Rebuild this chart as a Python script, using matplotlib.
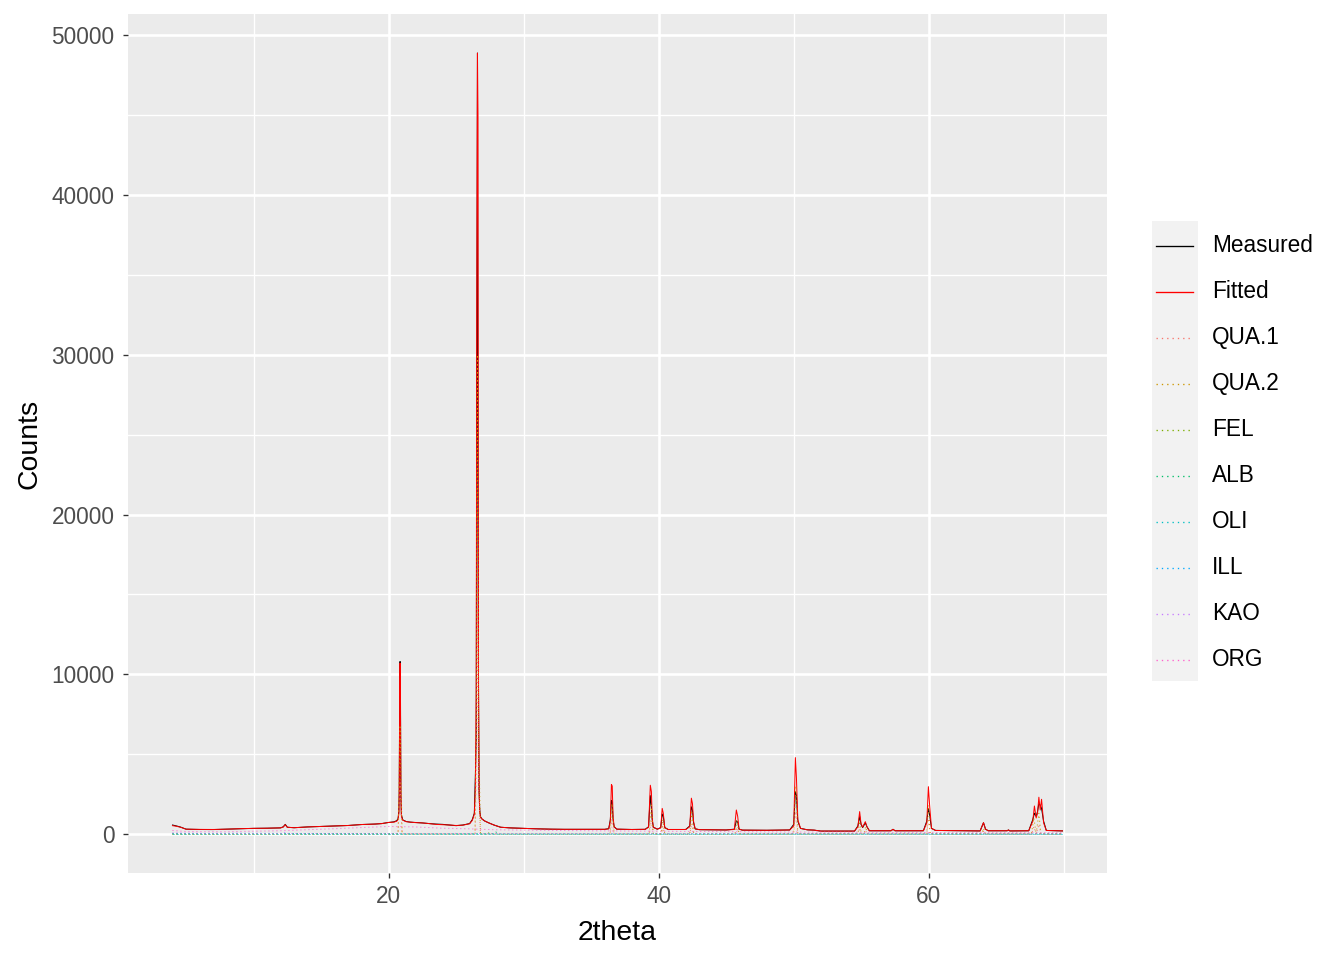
import matplotlib
matplotlib.use("Agg")
import matplotlib.pyplot as plt
from matplotlib.ticker import MultipleLocator

plt.rcParams["font.family"] = ["Liberation Sans", "DejaVu Sans"]

# measured / fitted pattern (2theta, counts)
tt = [4.0, 4.3, 4.6, 5.0, 6.0, 7.0, 8.0, 9.0, 10.0, 11.0, 12.0, 12.2, 12.35, 12.5, 13.0,
      14.0, 15.0, 16.0, 17.0, 18.0, 19.0, 19.5, 20.0, 20.4, 20.6, 20.7, 20.76, 20.79,
      20.82, 20.85, 20.88, 20.91, 20.95, 21.05, 21.3, 21.6, 22.0, 22.5, 23.0, 23.5,
      24.0, 24.5, 25.0, 25.5, 26.0, 26.2, 26.35, 26.43, 26.49, 26.53, 26.58, 26.62,
      26.66, 26.70, 26.75, 26.80, 26.9, 27.1, 27.4, 27.8, 28.3, 29.0, 30.0, 31.0, 32.0,
      33.0, 34.0, 35.0, 36.0, 36.3, 36.42, 36.5, 36.56, 36.62, 36.7, 36.9, 38.0, 39.0,
      39.25, 39.38, 39.46, 39.52, 39.6, 39.9, 40.15, 40.26, 40.34, 40.45, 40.7, 42.0,
      42.3, 42.42, 42.5, 42.58, 42.7, 43.0, 45.0, 45.6, 45.75, 45.85, 45.95, 46.2, 48.0,
      49.7, 50.0, 50.12, 50.2, 50.3, 50.5, 51.0, 51.5, 52.0, 54.5, 54.75, 54.88, 54.98,
      55.1, 55.3, 55.42, 55.6, 57.2, 57.35, 57.5, 59.6, 59.85, 59.97, 60.06, 60.2, 60.5,
      63.8, 64.05, 64.2, 64.4, 65.8, 65.9, 66.0, 67.4, 67.7, 67.82, 67.95, 68.05, 68.15,
      68.25, 68.35, 68.5, 68.7, 69.9]
measured = [560, 500, 430, 300, 280, 275, 300, 330, 350, 360, 380, 450, 600, 420, 390,
            440, 470, 500, 530, 590, 620, 650, 720, 760, 830, 950, 1400, 2800,
            8000, 10800, 8800, 2400, 1200, 880, 780, 740, 720, 690, 650, 620,
            600, 560, 520, 560, 650, 900, 1300, 3800, 6000, 27800, 48900, 19000,
            8700, 2800, 1500, 1100, 950, 820, 700, 560, 420, 380, 350, 320, 300,
            290, 290, 285, 290, 330, 900, 2100, 2000, 900, 450, 300, 280, 290,
            450, 2400, 1700, 900, 420, 300, 400, 1250, 1100, 400, 280, 280,
            500, 1700, 1500, 700, 320, 270, 250, 300, 820, 750, 300, 240, 230,
            250, 600, 2650, 2400, 800, 350, 260, 240, 180, 180, 500, 1100, 600,
            400, 700, 450, 200, 200, 290, 200, 200, 800, 1610, 1200, 350, 220,
            190, 700, 300, 200, 200, 250, 190, 200, 900, 1300, 1100, 1400, 1900,
            1800, 1600, 800, 220, 190]
fitted = [520, 480, 420, 300, 285, 280, 300, 330, 350, 360, 380, 430, 580, 420, 390,
          440, 470, 500, 530, 590, 620, 650, 720, 740, 800, 900, 1300, 2500,
          8800, 10700, 7900, 2600, 1100, 860, 770, 740, 710, 690, 650, 600,
          580, 560, 530, 550, 640, 850, 1250, 3000, 9000, 33000, 48900, 45000,
          9500, 2600, 1400, 1050, 950, 820, 700, 560, 420, 380, 350, 320, 300,
          290, 290, 285, 290, 320, 800, 3100, 3000, 1100, 450, 300, 280, 290,
          420, 3050, 2650, 1000, 420, 300, 380, 1600, 1300, 400, 280, 280,
          450, 2240, 1900, 800, 320, 270, 250, 280, 1500, 1100, 300, 240, 230,
          250, 500, 4780, 3500, 900, 350, 260, 240, 180, 180, 450, 1400, 650,
          420, 770, 450, 200, 200, 290, 200, 200, 700, 2960, 1800, 350, 220,
          190, 710, 300, 200, 200, 250, 190, 200, 800, 1750, 1000, 1300, 2300,
          1500, 2170, 700, 220, 190]

# quartz phases
qua_tt = [4.0, 20.7, 20.85, 21.0, 26.4, 26.5, 26.58, 26.66, 26.8, 36.4, 36.54, 36.7,
          39.3, 39.45, 39.6, 40.2, 40.3, 40.45, 42.3, 42.45, 42.6, 45.65, 45.8, 45.95,
          50.0, 50.15, 50.3, 54.75, 54.88, 55.0, 55.2, 55.32, 55.45, 59.85, 59.97, 60.1,
          63.9, 64.05, 64.2, 67.6, 67.78, 67.95, 68.15, 68.3, 68.45, 69.9]
qua1 = [0, 0, 3200, 0, 0, 4000, 14000, 3000, 0, 0, 900, 0,
        0, 850, 0, 0, 450, 0, 0, 650, 0, 0, 400, 0,
        0, 1400, 0, 0, 380, 0, 0, 200, 0, 0, 850, 0,
        0, 170, 0, 0, 450, 0, 600, 0, 0, 0]
qua2 = [0, 0, 6800, 0, 0, 8000, 30000, 7000, 0, 0, 1900, 0,
        0, 1800, 0, 0, 900, 0, 0, 1350, 0, 0, 850, 0,
        0, 3000, 0, 0, 800, 0, 0, 450, 0, 0, 1800, 0,
        0, 350, 0, 0, 1000, 0, 1300, 0, 0, 0]

# feldspars, clays, amorphous organic hump
fel_tt = [4.0, 27.3, 27.5, 27.7, 69.9]
fel = [0, 0, 110, 0, 0]
alb_tt = [4.0, 27.8, 27.95, 28.1, 69.9]
alb = [0, 0, 120, 0, 0]
oli_tt = [4.0, 69.9]
oli = [0, 0]
ill_tt = [4.0, 8.8, 20.0, 69.9]
ill = [20, 40, 10, 0]
kao_tt = [4.0, 6.0, 12.2, 12.35, 12.5, 24.8, 24.9, 25.0, 69.9]
kao = [80, 40, 20, 120, 20, 20, 60, 20, 10]
org_tt = [4.0, 5.0, 8.0, 12.0, 16.0, 20.0, 22.0, 24.0, 26.0, 28.0, 30.0, 35.0, 40.0,
          50.0, 60.0, 69.9]
org = [220, 150, 140, 200, 330, 470, 440, 360, 320, 260, 240, 200, 170, 120, 90, 80]

series = [
    ("Measured", tt, measured, "black", "-"),
    ("Fitted", tt, fitted, "red", "-"),
    ("QUA.1", qua_tt, qua1, "#F8766D", ":"),
    ("QUA.2", qua_tt, qua2, "#CD9600", ":"),
    ("FEL", fel_tt, fel, "#7CAE00", ":"),
    ("ALB", alb_tt, alb, "#00BE67", ":"),
    ("OLI", oli_tt, oli, "#00BFC4", ":"),
    ("ILL", ill_tt, ill, "#00A9FF", ":"),
    ("KAO", kao_tt, kao, "#C77CFF", ":"),
    ("ORG", org_tt, org, "#FF61CC", ":"),
]

W, H = 1344, 960
fig = plt.figure(figsize=(W / 96, H / 96), dpi=96)
ax = fig.add_axes([128 / W, 1 - 873 / H, (1107 - 128) / W, (873 - 14) / H])
ax.set_facecolor("#EBEBEB")

dot = (0, (1, 3))
for name, x, y, col, ls in series:
    ax.plot(x, y, color=col, lw=0.75, linestyle=ls if ls == "-" else dot)

xr = max(tt) - min(tt)
ax.set_xlim(min(tt) - 0.05 * xr, max(tt) + 0.05 * xr)
ax.set_ylim(-0.05 * max(measured), 1.05 * max(measured))

ax.xaxis.set_major_locator(MultipleLocator(20))
ax.xaxis.set_minor_locator(MultipleLocator(10))
ax.yaxis.set_major_locator(MultipleLocator(10000))
ax.yaxis.set_minor_locator(MultipleLocator(5000))
ax.grid(which="major", color="white", lw=2.0)
ax.grid(which="minor", color="white", lw=1.0)
ax.set_axisbelow(True)
for s in ax.spines.values():
    s.set_visible(False)
ax.tick_params(which="major", length=4.1, width=1.0, color="#333333",
               labelsize=17, labelcolor="#4D4D4D", pad=5)
ax.tick_params(axis="y", which="major", pad=6)
ax.tick_params(which="minor", length=0)
ax.set_xlabel("2theta", fontsize=21.3, labelpad=9)
ax.set_ylabel("Counts", fontsize=21.3, labelpad=7)

# legend drawn by hand, ggplot style
lax = fig.add_axes([1152 / W, 1 - 681 / H, 46 / W, 460 / H])
lax.set_facecolor("#F2F2F2")
lax.set_xlim(0, 46)
lax.set_ylim(460, 0)
lax.set_xticks([])
lax.set_yticks([])
for s in lax.spines.values():
    s.set_visible(False)
for i, (name, x, y, col, ls) in enumerate(series):
    yc = 24.5 + 46 * i
    lax.plot([4, 41], [yc, yc], color=col, lw=1.0, linestyle=ls if ls == "-" else dot)
    fig.text(1212 / W, 1 - (221 + yc) / H, name, fontsize=17, va="center", ha="left")

fig.savefig("out.png", dpi=96)
